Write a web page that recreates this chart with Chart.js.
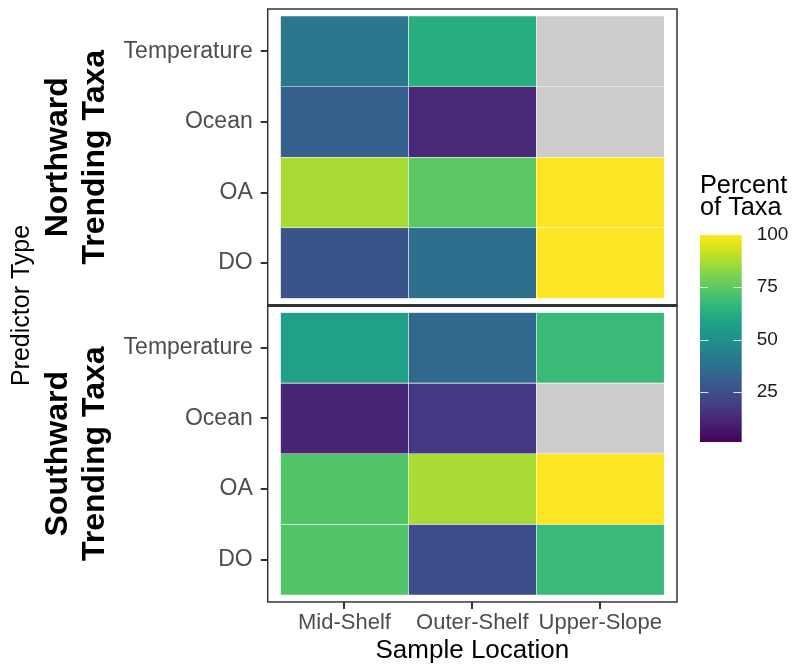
<!DOCTYPE html>
<html>
<head>
<meta charset="utf-8">
<script src="https://cdn.jsdelivr.net/npm/chart.js@4.4.1/dist/chart.umd.min.js"></script>
<style>
  html, body { margin: 0; padding: 0; background: #fff; overflow: hidden; }
  #wrap { position: relative; width: 795px; height: 664px; overflow: hidden; }
  #main { position: absolute; left: 0; top: 0; }
  #legend { position: absolute; left: 690px; top: 160px; }
</style>
</head>
<body>
<div id="wrap">
  <canvas id="main" width="795" height="664"></canvas>
  <canvas id="legend" width="120" height="300"></canvas>
</div>
<script>
// ── Data ──────────────────────────────────────────────────────────────
const locations = ['Mid-Shelf', 'Outer-Shelf', 'Upper-Slope'];
const predictors = ['Temperature', 'Ocean', 'OA', 'DO'];
// percent of taxa, one value per location (null = no data)
const northTemperature = [40, 63, null];
const northOcean = [31, 12, null];
const northOA = [87, 75, 100];
const northDO = [26, 37, 100];
const southTemperature = [57, 34, 68];
const southOcean = [11, 17, null];
const southOA = [73, 87, 100];
const southDO = [73, 24, 68];
const legendTicks = [25, 50, 75, 100];
const valueMin = 1;
const valueMax = 100;

// viridis colour map
const viridis = ['#440154', '#471365', '#482475', '#463480', '#414487', '#3b528b', '#355f8d',
    '#2f6c8e', '#2a788e', '#25848e', '#21918c', '#1e9c89', '#22a884', '#2fb47c', '#44bf70',
    '#5ec962', '#7ad151', '#9bd93c', '#bddf26', '#dfe318', '#fde725'];
const naColor = '#cccccc';

const hex = h => [1, 3, 5].map(i => parseInt(h.slice(i, i + 2), 16));
function colorFor(v) {
    if (v == null) return naColor;
    const t = Math.min(1, Math.max(0, (v - valueMin) / (valueMax - valueMin))) * (viridis.length - 1);
    const i = Math.min(Math.floor(t), viridis.length - 2);
    const f = t - i;
    const a = hex(viridis[i]), b = hex(viridis[i + 1]);
    return 'rgb(' + a.map((c, k) => Math.round(c + (b[k] - c) * f)).join(',') + ')';
}

Chart.defaults.font.family = "'Liberation Sans', Arial, sans-serif";

// let wide axes keep their natural width, and skip edge-label padding
const freeWidth = s => { s.maxWidth = 1000; };
const noEdgePad = s => { s.paddingTop = 0; s.paddingBottom = 0; s.paddingLeft = 0; s.paddingRight = 0; };

// one dataset per predictor row, floating bars = tiles
function panelSets(rows, axis) {
    return rows.map((vals, i) => {
        const yc = predictors.length - i;
        return {
            yAxisID: axis,
            data: vals.map((v, j) => ({ x: j + 1, y: [yc - 0.5, yc + 0.5] })),
            backgroundColor: vals.map(colorFor),
            borderColor: 'rgba(255,255,255,0.75)',
            borderWidth: 0.6,
            borderSkipped: false,
            grouped: false,
            barPercentage: 1,
            categoryPercentage: 1,
        };
    });
}

const tickMarks = { drawOnChartArea: false, drawTicks: true, tickLength: 7, color: '#333333', lineWidth: 2, offset: false };

function panelAxis(label) {
    return {
        type: 'linear',
        position: 'left',
        stack: 'panels',
        stackWeight: 1,
        min: 0.4,
        max: 4.6,
        beforeFit: freeWidth,
        afterFit: noEdgePad,
        afterBuildTicks: s => { s.ticks = predictors.map((_, i) => ({ value: i + 1 })); },
        ticks: {
            callback: v => predictors[predictors.length - v],
            color: '#4d4d4d',
            font: { size: 23 },
            padding: 8,
        },
        grid: tickMarks,
        border: { display: false },
        title: {
            display: true,
            text: label,
            color: '#000',
            font: { size: 32, weight: 'bold', lineHeight: 1.15 },
            padding: { top: 2, bottom: 2 },
        },
    };
}

// panel frames (ggplot panel.border), the shared edge reads a bit heavier
const panelBorder = {
    id: 'panelBorder',
    afterDatasetsDraw(chart) {
        const { ctx, chartArea, scales } = chart;
        const w = chartArea.right - chartArea.left;
        ctx.save();
        ctx.strokeStyle = '#333333';
        ctx.lineWidth = 1.5;
        ['yN', 'yS'].forEach(id => {
            const s = scales[id];
            ctx.strokeRect(chartArea.left, s.top, w, s.bottom - s.top);
        });
        ctx.lineWidth = 2.8;
        ctx.beginPath();
        ctx.moveTo(chartArea.left, scales.yN.bottom);
        ctx.lineTo(chartArea.right, scales.yN.bottom);
        ctx.stroke();
        ctx.restore();
    },
};

new Chart(document.getElementById('main'), {
    type: 'bar',
    data: {
        datasets: [
            ...panelSets([northTemperature, northOcean, northOA, northDO], 'yN'),
            ...panelSets([southTemperature, southOcean, southOA, southDO], 'yS'),
        ],
    },
    options: {
        responsive: false,
        animation: false,
        layout: { padding: { top: 9, right: 118, bottom: 0, left: 0 } },
        plugins: { legend: { display: false }, tooltip: { enabled: false } },
        scales: {
            x: {
                type: 'linear',
                offset: false,
                min: 0.4,
                max: 3.6,
                afterFit: noEdgePad,
                afterBuildTicks: s => { s.ticks = locations.map((_, i) => ({ value: i + 1 })); },
                ticks: { callback: v => locations[v - 1], color: '#4d4d4d', font: { size: 22 }, padding: 0.8, maxRotation: 0, autoSkip: false },
                grid: tickMarks,
                border: { display: false },
                title: { display: true, text: 'Sample Location', color: '#000', font: { size: 26, lineHeight: 1.04 }, padding: { top: 0, bottom: 0 } },
            },
            yS: panelAxis(['Southward', 'Trending Taxa']),
            yN: panelAxis(['Northward', 'Trending Taxa']),
            yP: {
                type: 'linear',
                position: 'left',
                weight: 1,
                afterFit: noEdgePad,
                ticks: { display: false },
                grid: { display: false, drawTicks: false },
                border: { display: false },
                title: { display: true, text: 'Predictor Type', color: '#000', font: { size: 25 }, padding: { top: 7, bottom: 1 } },
            },
        },
    },
    plugins: [panelBorder],
});

// ── Colour bar legend ────────────────────────────────────────────────
const colorbarTicks = {
    id: 'colorbarTicks',
    afterDatasetsDraw(chart) {
        const { ctx, chartArea: { left, right }, scales: { y } } = chart;
        const len = (right - left) / 5;
        ctx.save();
        ctx.strokeStyle = 'rgba(255,255,255,0.85)';
        ctx.lineWidth = 1;
        y.ticks.forEach(t => {
            if (t.value >= valueMax) return;
            const py = Math.round(y.getPixelForValue(t.value)) + 0.5;
            ctx.beginPath();
            ctx.moveTo(left, py); ctx.lineTo(left + len, py);
            ctx.moveTo(right - len, py); ctx.lineTo(right, py);
            ctx.stroke();
        });
        ctx.restore();
    },
};

new Chart(document.getElementById('legend'), {
    type: 'bar',
    data: {
        labels: ['Percent of Taxa'],
        datasets: [{
            data: [[valueMin, valueMax]],
            backgroundColor: c => {
                const chart = c.chart;
                if (!chart.chartArea) return viridis[0];
                const y = chart.scales.y;
                const g = chart.ctx.createLinearGradient(0, y.getPixelForValue(valueMin), 0, y.getPixelForValue(valueMax));
                viridis.forEach((col, i) => g.addColorStop(i / (viridis.length - 1), col));
                return g;
            },
            borderWidth: 0,
            barPercentage: 1,
            categoryPercentage: 1,
        }],
    },
    options: {
        responsive: false,
        animation: false,
        layout: { padding: { top: 0, right: 6.6, bottom: 18, left: 10 } },
        plugins: {
            legend: { display: false },
            tooltip: { enabled: false },
            title: {
                display: true,
                text: ['Percent', 'of Taxa'],
                align: 'start',
                color: '#000',
                font: { size: 25.3, weight: 'normal', lineHeight: 0.86 },
                padding: { top: 15.3, bottom: 16.1 },
            },
        },
        scales: {
            x: { display: false },
            y: {
                position: 'right',
                min: valueMin,
                max: valueMax,
                beforeFit: freeWidth,
                afterFit: noEdgePad,
                afterBuildTicks: s => { s.ticks = legendTicks.map(v => ({ value: v })); },
                ticks: { color: '#1a1a1a', font: { size: 19 }, padding: 15 },
                grid: { display: false, drawTicks: false },
                border: { display: false },
            },
        },
    },
    plugins: [colorbarTicks],
});
</script>
</body>
</html>
